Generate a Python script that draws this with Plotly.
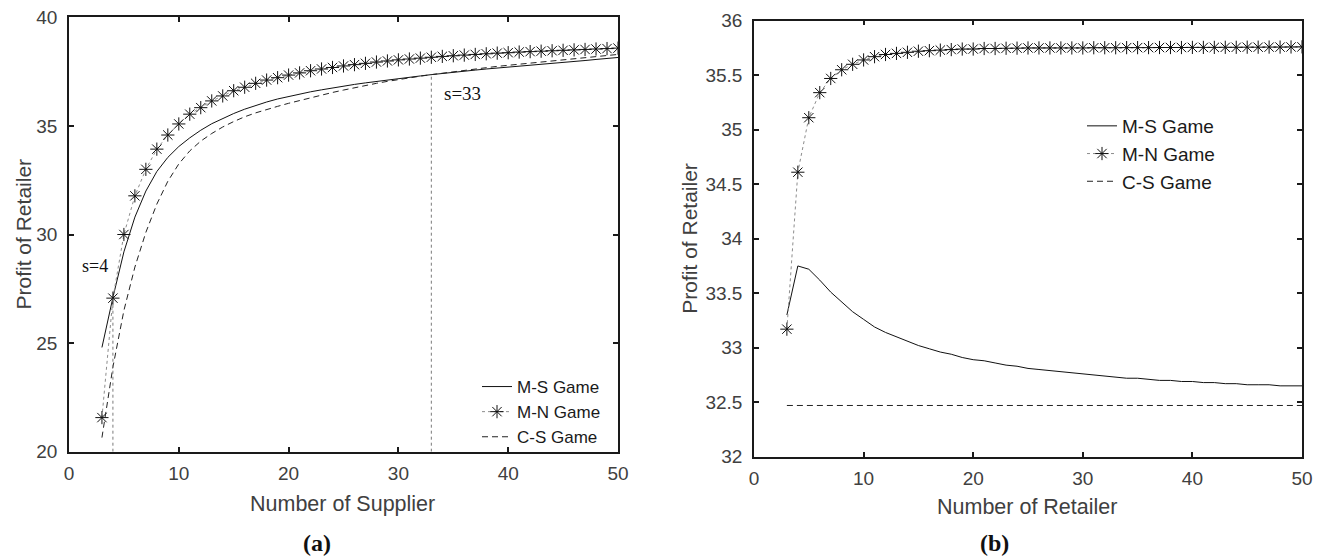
import plotly.graph_objects as go

# ---------------- data ----------------
supplier_n = list(range(3, 51))
retailer_n = list(range(3, 51))

# (a) Profit of Retailer vs Number of Supplier
a_ms = [24.8, 27.1, 29.2, 30.8, 32.0, 32.9, 33.55, 34.05, 34.45, 34.8,
        35.1, 35.35, 35.57, 35.77, 35.95, 36.1, 36.24, 36.36, 36.47, 36.57,
        36.66, 36.75, 36.83, 36.91, 36.98, 37.05, 37.12, 37.18, 37.24, 37.3,
        37.36, 37.42, 37.47, 37.52, 37.57, 37.62, 37.66, 37.7, 37.75, 37.79,
        37.84, 37.88, 37.93, 37.97, 38.01, 38.06, 38.1, 38.15]
a_mn = [21.57, 27.07, 30.0, 31.78, 33.0, 33.93, 34.58, 35.09, 35.54, 35.84,
        36.15, 36.38, 36.62, 36.78, 36.96, 37.11, 37.22, 37.34, 37.44, 37.54,
        37.62, 37.69, 37.76, 37.82, 37.88, 37.94, 37.99, 38.04, 38.08, 38.12,
        38.16, 38.2, 38.23, 38.26, 38.29, 38.32, 38.35, 38.37, 38.4, 38.42,
        38.44, 38.46, 38.48, 38.5, 38.52, 38.54, 38.56, 38.58]
a_cs = [20.65, 23.9, 26.5, 28.5, 30.1, 31.4, 32.45, 33.25, 33.85, 34.3,
        34.65, 34.95, 35.2, 35.42, 35.6, 35.76, 35.9, 36.04, 36.17, 36.3,
        36.42, 36.54, 36.65, 36.76, 36.86, 36.96, 37.05, 37.14, 37.22, 37.29,
        37.36, 37.43, 37.5, 37.56, 37.62, 37.68, 37.74, 37.79, 37.84, 37.89,
        37.94, 37.99, 38.04, 38.09, 38.14, 38.19, 38.24, 38.29]
s_marks = [4, 33]
s_labels = ["s=4", "s=33"]

# (b) Profit of Retailer vs Number of Retailer
b_ms = [33.3, 33.75, 33.72, 33.62, 33.51, 33.42, 33.33, 33.26, 33.19, 33.14,
        33.1, 33.06, 33.02, 32.99, 32.96, 32.94, 32.91, 32.89, 32.88, 32.86,
        32.84, 32.83, 32.81, 32.8, 32.79, 32.78, 32.77, 32.76, 32.75, 32.74,
        32.73, 32.72, 32.72, 32.71, 32.7, 32.7, 32.69, 32.69, 32.68, 32.68,
        32.67, 32.67, 32.66, 32.66, 32.66, 32.65, 32.65, 32.65]
b_mn = [33.17, 34.61, 35.11, 35.34, 35.47, 35.55, 35.6, 35.64, 35.67, 35.69,
        35.7, 35.71, 35.72, 35.725, 35.73, 35.735, 35.74, 35.74, 35.745, 35.745,
        35.747, 35.748, 35.75, 35.75, 35.75, 35.75, 35.75, 35.75, 35.752, 35.752,
        35.752, 35.753, 35.753, 35.753, 35.754, 35.754, 35.754, 35.755, 35.755, 35.755,
        35.756, 35.756, 35.757, 35.757, 35.758, 35.758, 35.759, 35.76]
b_cs = [32.47, 32.47, 32.47, 32.47, 32.47, 32.47, 32.47, 32.47, 32.47, 32.47,
        32.47, 32.47, 32.47, 32.47, 32.47, 32.47, 32.47, 32.47, 32.47, 32.47,
        32.47, 32.47, 32.47, 32.47, 32.47, 32.47, 32.47, 32.47, 32.47, 32.47,
        32.47, 32.47, 32.47, 32.47, 32.47, 32.47, 32.47, 32.47, 32.47, 32.47,
        32.47, 32.47, 32.47, 32.47, 32.47, 32.47, 32.47, 32.47]

x_ticks = [0, 10, 20, 30, 40, 50]
a_y_ticks = [20, 25, 30, 35, 40]
b_y_ticks = [32, 32.5, 33, 33.5, 34, 34.5, 35, 35.5, 36]
b_y_ticktext = ["32", "32.5", "33", "33.5", "34", "34.5", "35", "35.5", "36"]
series_names = ["M-S Game", "M-N Game", "C-S Game"]

# ---------------- figure ----------------
W, H = 1323, 559
SANS = "Liberation Sans, Arial, sans-serif"
SERIF = "Liberation Serif, Times New Roman, serif"
TICKC = "#404040"

fig = go.Figure()

def add_set(x, ms, mn, cs, xa, ya, leg, show):
    fig.add_trace(go.Scatter(x=x, y=ms, mode="lines", name=series_names[0],
                             line=dict(color="#111111", width=1),
                             xaxis=xa, yaxis=ya, legend=leg, showlegend=show))
    fig.add_trace(go.Scatter(x=x, y=mn, mode="lines+markers", name=series_names[1],
                             line=dict(color="#8c8c8c", width=1, dash="dot"),
                             marker=dict(symbol="asterisk-open", size=11, color="#111111",
                                         line=dict(color="#111111", width=1)),
                             xaxis=xa, yaxis=ya, legend=leg, showlegend=show))
    fig.add_trace(go.Scatter(x=x, y=cs, mode="lines", name=series_names[2],
                             line=dict(color="#222222", width=1, dash="6px,4px"),
                             xaxis=xa, yaxis=ya, legend=leg, showlegend=show))

add_set(supplier_n, a_ms, a_mn, a_cs, "x", "y", "legend", True)
add_set(retailer_n, b_ms, b_mn, b_cs, "x2", "y2", "legend2", True)

# vertical dotted markers at s=4 and s=33 (from y-axis floor to the M-S curve)
for s in s_marks:
    y_top = a_ms[supplier_n.index(s)]
    fig.add_trace(go.Scatter(x=[s, s], y=[a_y_ticks[0], y_top], mode="lines",
                             line=dict(color="#7a7a7a", width=1, dash="dot"),
                             xaxis="x", yaxis="y", showlegend=False, hoverinfo="skip"))

axis_common = dict(showgrid=False, zeroline=False, showline=True, linecolor="#1a1a1a",
                   linewidth=1.5, mirror="ticks", ticks="inside", ticklen=5,
                   tickcolor="#1a1a1a", tickwidth=1.5, automargin=False,
                   tickfont=dict(family=SANS, size=19, color=TICKC))

fig.update_layout(
    width=W, height=H,
    margin=dict(l=0, r=0, t=0, b=0, autoexpand=False),
    paper_bgcolor="white", plot_bgcolor="white",
    xaxis=dict(domain=[69 / W, 618 / W], range=[0, 50], tickvals=x_ticks,
               anchor="y", ticklabelstandoff=4, **axis_common),
    yaxis=dict(domain=[1 - 451.7 / H, 1 - 17.3 / H], range=[20, 40], tickvals=a_y_ticks,
               anchor="x", ticklabelstandoff=6, **axis_common),
    xaxis2=dict(domain=[754 / W, 1302 / W], range=[0, 50], tickvals=x_ticks,
                anchor="y2", ticklabelstandoff=4, **axis_common),
    yaxis2=dict(domain=[1 - 456.7 / H, 1 - 20.7 / H], range=[32, 36], tickvals=b_y_ticks,
                ticktext=b_y_ticktext, anchor="x2", ticklabelstandoff=6, **axis_common),
    legend=dict(x=477 / W, y=1 - 369 / H, xanchor="left", yanchor="top",
                bgcolor="rgba(0,0,0,0)", borderwidth=0,
                font=dict(family=SANS, size=17, color="#1a1a1a"), tracegroupgap=0),
    legend2=dict(x=1082 / W, y=1 - 107 / H, xanchor="left", yanchor="top",
                 bgcolor="rgba(0,0,0,0)", borderwidth=0,
                 font=dict(family=SANS, size=19, color="#1a1a1a"), tracegroupgap=0),
    showlegend=True,
)

ann = []
TITLEC = "#404040"
ann.append(dict(text="Profit of Retailer", x=23 / W, y=1 - 234.5 / H, xref="paper", yref="paper",
                textangle=-90, showarrow=False, xanchor="center", yanchor="middle",
                font=dict(family=SANS, size=21, color=TITLEC)))
ann.append(dict(text="Profit of Retailer", x=690 / W, y=1 - 238.7 / H, xref="paper", yref="paper",
                textangle=-90, showarrow=False, xanchor="center", yanchor="middle",
                font=dict(family=SANS, size=21, color=TITLEC)))
ann.append(dict(text="Number of Supplier", x=342.5 / W, y=1 - 504 / H, xref="paper", yref="paper",
                showarrow=False, xanchor="center", yanchor="middle",
                font=dict(family=SANS, size=21.5, color=TITLEC)))
ann.append(dict(text="Number of Retailer", x=1027 / W, y=1 - 507 / H, xref="paper", yref="paper",
                showarrow=False, xanchor="center", yanchor="middle",
                font=dict(family=SANS, size=21.5, color=TITLEC)))
ann.append(dict(text="<b>(a)</b>", x=317 / W, y=1 - 543 / H, xref="paper", yref="paper",
                showarrow=False, xanchor="center", yanchor="middle",
                font=dict(family=SERIF, size=24, color="#111111")))
ann.append(dict(text="<b>(b)</b>", x=994 / W, y=1 - 543 / H, xref="paper", yref="paper",
                showarrow=False, xanchor="center", yanchor="middle",
                font=dict(family=SERIF, size=24, color="#111111")))
ann.append(dict(text=s_labels[0], x=2.37, y=28.55, xref="x", yref="y", showarrow=False,
                xanchor="center", yanchor="middle",
                font=dict(family=SERIF, size=18, color="#111111")))
ann.append(dict(text=s_labels[1], x=35.84, y=36.47, xref="x", yref="y", showarrow=False,
                xanchor="center", yanchor="middle",
                font=dict(family=SERIF, size=19, color="#111111")))
fig.update_layout(annotations=ann)

fig.write_html("out.html")
